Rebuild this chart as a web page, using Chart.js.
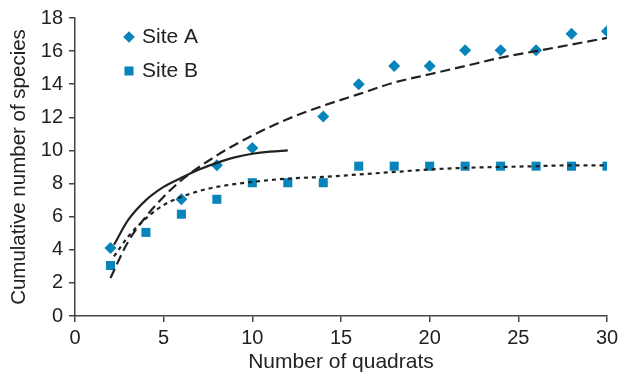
<!DOCTYPE html>
<html>
<head>
<meta charset="utf-8">
<script src="https://cdn.jsdelivr.net/npm/chart.js@4/dist/chart.umd.min.js"></script>
<style>
  html, body { margin: 0; padding: 0; background: #fff; }
  #wrap { width: 619px; height: 373px; }
</style>
</head>
<body>
<div id="wrap"><canvas id="chart"></canvas></div>
<script>
// observed data
const quadratsA = [2, 6, 8, 10, 14, 16, 18, 20, 22, 24, 26, 28, 30];
const speciesA = [4.1, 7.05, 9.1, 10.15, 12.05, 14.0, 15.1, 15.1, 16.05, 16.05, 16.05, 17.05, 17.2];
const quadratsB = [2, 4, 6, 8, 10, 12, 14, 16, 18, 20, 22, 24, 26, 28, 30];
const speciesB = [3.05, 5.05, 6.15, 7.05, 8.05, 8.05, 8.05, 9.05, 9.05, 9.05, 9.05, 9.05, 9.05, 9.05, 9.05];

// fitted curves
const fitDashedX = [2, 3, 4, 5, 6, 8, 10, 12, 14, 16, 18, 20, 22, 24, 26, 28, 30];
const fitDashedY = [2.3, 4.5, 6.0, 7.2, 8.2, 9.7, 10.9, 11.9, 12.7, 13.4, 14.1, 14.6, 15.1, 15.6, 16.0, 16.4, 16.8];
const fitDottedX = [2.2, 3, 4, 5, 6, 7, 8, 10, 12, 14, 16, 18, 20, 22, 24, 26, 28, 30];
const fitDottedY = [3.6, 4.8, 5.9, 6.7, 7.2, 7.55, 7.8, 8.1, 8.3, 8.4, 8.55, 8.7, 8.85, 8.95, 9.0, 9.05, 9.1, 9.1];
const fitSolidX = [2.2, 3, 4, 5, 6, 7, 8, 9, 10, 11, 12];
const fitSolidY = [4.3, 5.8, 7.0, 7.8, 8.35, 8.85, 9.25, 9.58, 9.8, 9.93, 10.0];

const seriesLabels = ['Site A', 'Site B'];

const BLUE = '#0784b9';
const INK = '#222';
const AXIS = '#444';
const FONT = "Arial, 'Liberation Sans', sans-serif";

function pts(xs, ys) {
  return xs.map((x, i) => ({ x, y: ys[i] }));
}

function fitLine(xs, ys, dash) {
  return {
    data: pts(xs, ys),
    showLine: true,
    borderColor: INK,
    borderWidth: 2.2,
    borderDash: dash,
    pointRadius: 0,
    cubicInterpolationMode: 'monotone',
    order: 0
  };
}

// legend drawn inside the plot area
const insideLegend = {
  id: 'insideLegend',
  afterDraw(chart) {
    const ctx = chart.ctx;
    ctx.save();
    ctx.fillStyle = BLUE;
    // diamond
    const dx = 129, dy = 37, r = 5.8;
    ctx.beginPath();
    ctx.moveTo(dx, dy - r);
    ctx.lineTo(dx + r, dy);
    ctx.lineTo(dx, dy + r);
    ctx.lineTo(dx - r, dy);
    ctx.closePath();
    ctx.fill();
    // square
    ctx.fillRect(129 - 4.5, 71 - 4.5, 9, 9);
    ctx.fillStyle = INK;
    ctx.font = '21px ' + FONT;
    ctx.textBaseline = 'middle';
    ctx.textAlign = 'left';
    ctx.fillText(seriesLabels[0], 142, 37);
    ctx.fillText(seriesLabels[1], 142, 71);
    ctx.restore();
  }
};

new Chart(document.getElementById('chart'), {
  type: 'scatter',
  data: {
    datasets: [
      fitLine(fitDashedX, fitDashedY, [10, 5]),
      fitLine(fitDottedX, fitDottedY, [4, 4]),
      fitLine(fitSolidX, fitSolidY, []),
      {
        label: seriesLabels[0],
        data: pts(quadratsA, speciesA),
        pointStyle: 'rectRot',
        pointRadius: 6,
        pointBackgroundColor: BLUE,
        pointBorderWidth: 0,
        order: 1
      },
      {
        label: seriesLabels[1],
        data: pts(quadratsB, speciesB),
        pointStyle: 'rect',
        pointRadius: 6.4,
        pointBackgroundColor: BLUE,
        pointBorderWidth: 0,
        order: 1
      }
    ]
  },
  plugins: [insideLegend],
  options: {
    responsive: true,
    maintainAspectRatio: false,
    animation: false,
    layout: { padding: { top: 18, right: 12, left: 0, bottom: 0 } },
    plugins: {
      legend: { display: false },
      tooltip: { enabled: false }
    },
    scales: {
      x: {
        type: 'linear',
        min: 0,
        max: 30,
        afterFit: s => { s.height = 57; s.paddingLeft = 0; s.paddingRight = 0; },
        border: { display: true, color: AXIS, width: 1.5 },
        grid: { drawOnChartArea: false, drawTicks: true, tickLength: 6, color: AXIS, lineWidth: 1.5 },
        ticks: { stepSize: 5, color: INK, padding: 4, font: { family: FONT, size: 20 } },
        title: {
          display: true,
          text: 'Number of quadrats',
          color: INK,
          padding: { top: 0, bottom: -2 },
          font: { family: FONT, size: 21 }
        }
      },
      y: {
        min: 0,
        max: 18,
        afterFit: s => { s.width = 75; s.paddingTop = 0; s.paddingBottom = 0; },
        border: { display: true, color: AXIS, width: 1.5 },
        grid: { drawOnChartArea: false, drawTicks: true, tickLength: 6, color: AXIS, lineWidth: 1.5 },
        ticks: { stepSize: 2, color: INK, padding: 6, font: { family: FONT, size: 20 } },
        title: {
          display: true,
          text: 'Cumulative number of species',
          color: INK,
          padding: { top: 7, bottom: 0 },
          font: { family: FONT, size: 20.5 }
        }
      }
    }
  }
});
</script>
</body>
</html>
